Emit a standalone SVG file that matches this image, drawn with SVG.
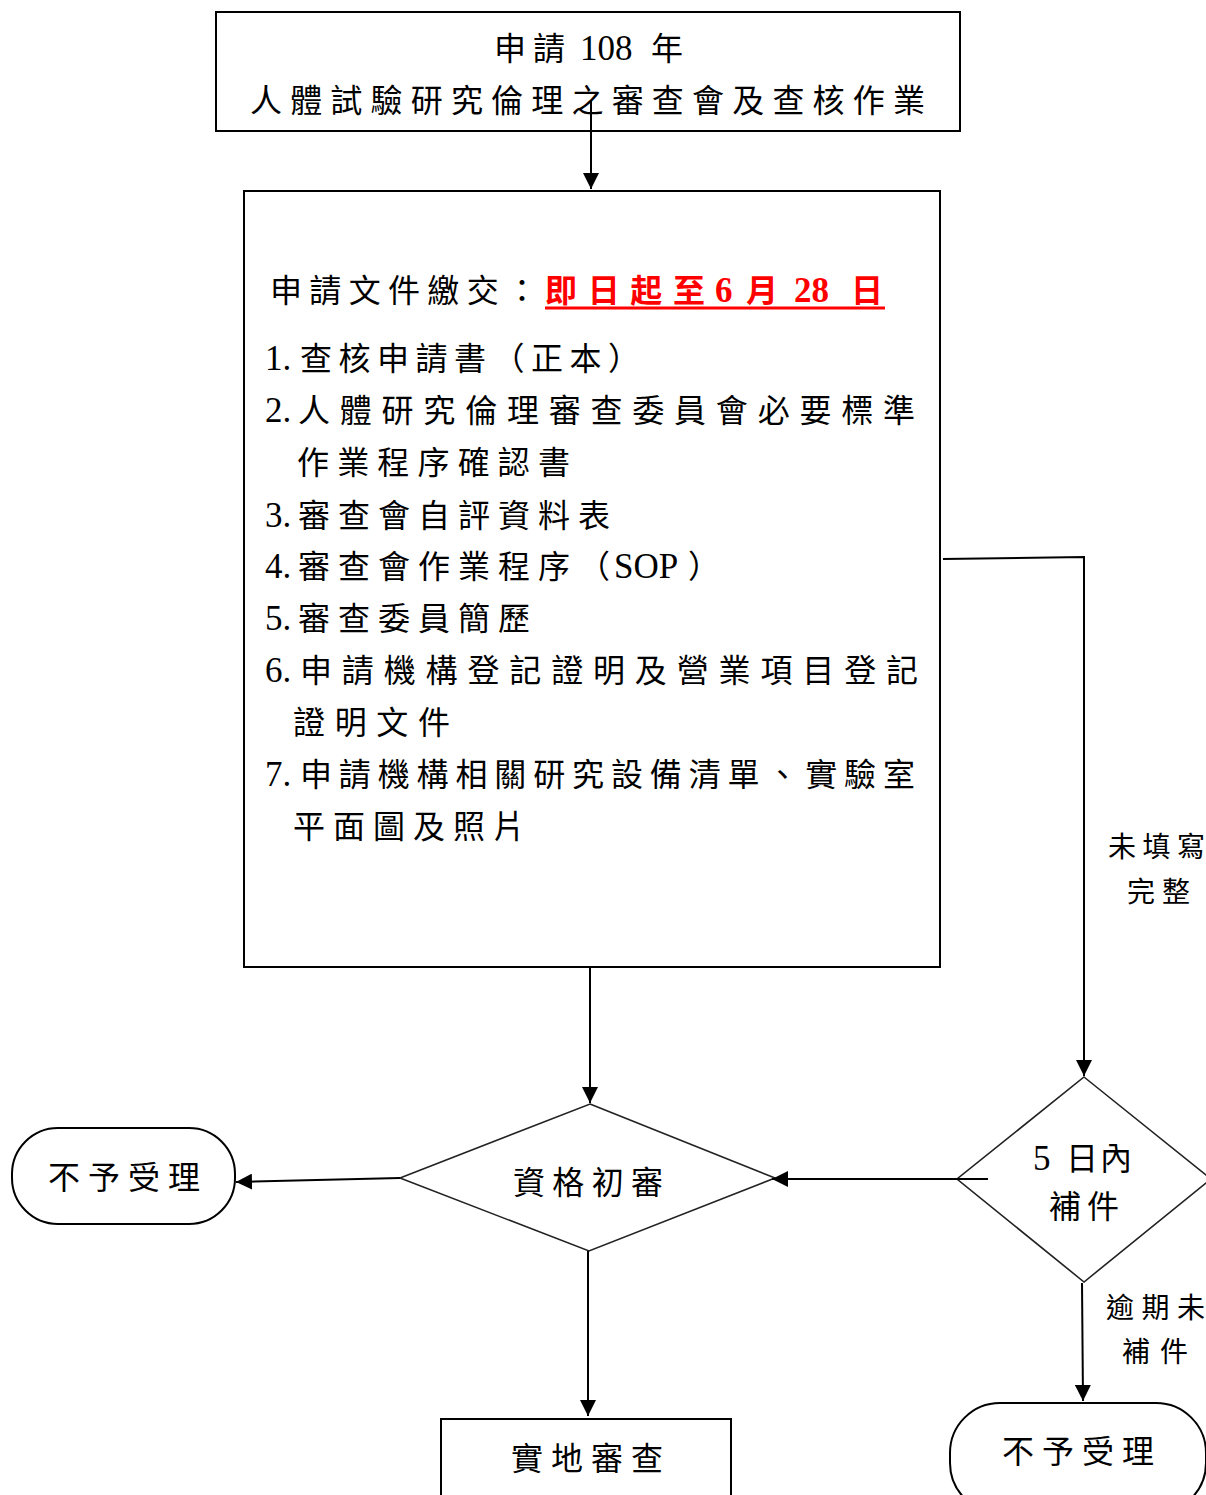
<svg xmlns="http://www.w3.org/2000/svg" width="1206" height="1495" viewBox="0 0 1206 1495">
<style>
text{font-family:"Liberation Serif","Noto Sans CJK TC",serif;fill:#000;}
.t{font-size:32px;}
.d{font-size:35px;}
.m{text-anchor:middle;}
.box{fill:#fff;stroke:#000;stroke-width:2;}
.dia{fill:#fff;stroke:#222;stroke-width:1.6;}
.con{fill:none;stroke:#000;stroke-width:2;}
.lbl{font-size:28px;}
.red{fill:#ff0000;font-weight:bold;}
</style>
<defs>
<marker id="ah" viewBox="0 0 10 10" refX="10" refY="5" markerWidth="16" markerHeight="16" markerUnits="userSpaceOnUse" orient="auto">
<path d="M0,0 L10,5 L0,10 Z" fill="#000"/>
</marker>
</defs>

<g id="n-top">
<rect class="box" x="216" y="12" width="744" height="119"/>
<text class="t" x="494" y="60" font-size="33" textLength="71" lengthAdjust="spacing">申請</text>
<text class="d" x="580" y="60">108</text>
<text class="t" x="651" y="60" font-size="33">年</text>
<text class="t" x="250" y="112" font-size="33" textLength="675" lengthAdjust="spacing">人體試驗研究倫理之審查會及查核作業</text>
</g>

<g id="n-docs">
<rect class="box" x="244" y="191" width="696" height="776"/>
<text class="t" x="270" y="302" textLength="268" lengthAdjust="spacing">申請文件繳交：</text>
<text class="t red" x="545" y="302" textLength="160" lengthAdjust="spacing">即日起至</text>
<text class="d red" x="715" y="302">6</text>
<text class="t red" x="746" y="302">月</text>
<text class="d red" x="794" y="302">28</text>
<text class="t red" x="851" y="302">日</text>
<line x1="545" y1="308" x2="885" y2="308" stroke="#ff0000" stroke-width="3"/>

<text class="d" x="265" y="370">1.</text>
<text class="t" x="300" y="370" textLength="340" lengthAdjust="spacing">查核申請書（正本）</text>
<text class="d" x="265" y="422">2.</text>
<text class="t" x="298" y="422" textLength="617" lengthAdjust="spacing">人體研究倫理審查委員會必要標準</text>
<text class="t" x="297" y="474" textLength="273" lengthAdjust="spacing">作業程序確認書</text>
<text class="d" x="265" y="527">3.</text>
<text class="t" x="298" y="527" textLength="312" lengthAdjust="spacing">審查會自評資料表</text>
<text class="d" x="265" y="578">4.</text>
<text class="t" x="298" y="578" textLength="312" lengthAdjust="spacing">審查會作業程序（</text>
<text class="d" x="614" y="578">SOP</text>
<text class="t" x="688" y="578">）</text>
<text class="d" x="265" y="630">5.</text>
<text class="t" x="298" y="630" textLength="232" lengthAdjust="spacing">審查委員簡歷</text>
<text class="d" x="265" y="682">6.</text>
<text class="t" x="300" y="682" textLength="618" lengthAdjust="spacing">申請機構登記證明及營業項目登記</text>
<text class="t" x="293" y="734" textLength="157" lengthAdjust="spacing">證明文件</text>
<text class="d" x="265" y="786">7.</text>
<text class="t" x="300" y="786" textLength="615" lengthAdjust="spacing">申請機構相關研究設備清單、實驗室</text>
<text class="t" x="293" y="838" textLength="232" lengthAdjust="spacing">平面圖及照片</text>
</g>

<g id="n-check">
<polygon class="dia" points="590,1104 775,1178 589,1251 400,1178"/>
<text class="t m" x="588" y="1194" textLength="150" lengthAdjust="spacing">資格初審</text>
</g>

<g id="n-reject-left">
<rect class="box" x="12" y="1128" width="223" height="96" rx="46" ry="46"/>
<text class="t m" x="124" y="1189" textLength="152" lengthAdjust="spacing">不予受理</text>
</g>

<g id="n-supp">
<polygon class="dia" points="1084,1077 1211,1179 1084,1282 957,1179"/>
<text class="d" x="1033" y="1170">5</text>
<text class="t" x="1066" y="1170" textLength="66" lengthAdjust="spacing">日內</text>
<text class="t m" x="1084" y="1218" textLength="70" lengthAdjust="spacing">補件</text>
</g>

<g id="n-site">
<rect class="box" x="441" y="1419" width="290" height="90"/>
<text class="t m" x="587" y="1470" textLength="152" lengthAdjust="spacing">實地審查</text>
</g>

<g id="n-reject-right">
<rect class="box" x="950" y="1403" width="256" height="110" rx="50" ry="50"/>
<text class="t m" x="1078" y="1463" textLength="152" lengthAdjust="spacing">不予受理</text>
</g>

<g id="connectors">
<line class="con" x1="591" y1="100" x2="591" y2="189" marker-end="url(#ah)"/>
<polyline class="con" points="943,559 1084,557 1084,1076" marker-end="url(#ah)"/>
<text class="lbl" x="1108" y="857" textLength="97" lengthAdjust="spacing">未填寫</text>
<text class="lbl" x="1127" y="902" textLength="63" lengthAdjust="spacing">完整</text>
<line class="con" x1="590" y1="967" x2="590" y2="1103" marker-end="url(#ah)"/>
<line class="con" x1="988" y1="1179" x2="772" y2="1179" marker-end="url(#ah)"/>
<line class="con" x1="400" y1="1178" x2="236" y2="1182" marker-end="url(#ah)"/>
<line class="con" x1="588" y1="1251" x2="588" y2="1416" marker-end="url(#ah)"/>
<line class="con" x1="1082" y1="1283" x2="1083" y2="1401" marker-end="url(#ah)"/>
<text class="lbl" x="1106" y="1318" textLength="99" lengthAdjust="spacing">逾期未</text>
<text class="lbl" x="1122" y="1362" textLength="66" lengthAdjust="spacing">補件</text>
</g>
</svg>
